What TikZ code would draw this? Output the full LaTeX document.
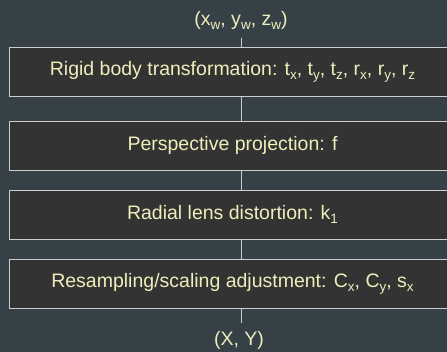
\documentclass[tikz,border=0pt]{standalone}
\usepackage{fontspec}
\setmainfont{Liberation Sans}
\definecolor{bgc}{RGB}{54,64,71}
\definecolor{boxfill}{RGB}{51,51,51}
\definecolor{edgec}{RGB}{205,205,205}
\definecolor{txtc}{RGB}{238,238,187}
\newcommand{\sbx}[1]{\raisebox{-4pt}{\fontsize{13.5}{14}\selectfont #1}}
\tikzset{
  stagebox/.style={draw=edgec, line width=0.9pt, fill=boxfill, minimum width=446pt, minimum height=49pt, inner sep=0pt, text=txtc, font=\fontsize{19.5}{23}\selectfont},
  endlabel/.style={text=txtc, inner sep=0pt, font=\fontsize{19.5}{23}\selectfont},
  conn/.style={draw=edgec, line width=0.9pt}
}
\begin{document}
\begin{tikzpicture}[x=1pt,y=-1pt]
\fill[bgc] (0,0) rectangle (447,352);
\useasboundingbox (0,0) rectangle (447,352);
\clip (0,0) rectangle (447,352);
\node[endlabel] (top) at (241,20) {(x\sbx{w}, y\sbx{w}, z\sbx{w})};
\coordinate (topend) at (241,38);
\node[stagebox] (b1) at (232.5,71.5) {Rigid body transformation: t\sbx{x}, t\sbx{y}, t\sbx{z}, r\sbx{x}, r\sbx{y}, r\sbx{z}};
\node[stagebox] (b2) at (232.5,145.5) {Perspective projection: f};
\node[stagebox] (b3) at (232.5,214.5) {Radial lens distortion: k\sbx{1}};
\node[stagebox] (b4) at (232.5,283.5) {Resampling/scaling adjustment: C\sbx{x}, C\sbx{y}, s\sbx{x}};
\coordinate (botend) at (241,323);
\node[endlabel] (bot) at (239,340) {(X, Y)};
\draw[conn] (topend) -- (topend |- b1.north);
\draw[conn] (topend |- b1.south) -- (topend |- b2.north);
\draw[conn] (topend |- b2.south) -- (topend |- b3.north);
\draw[conn] (topend |- b3.south) -- (topend |- b4.north);
\draw[conn] (topend |- b4.south) -- (botend);
\end{tikzpicture}
\end{document}
